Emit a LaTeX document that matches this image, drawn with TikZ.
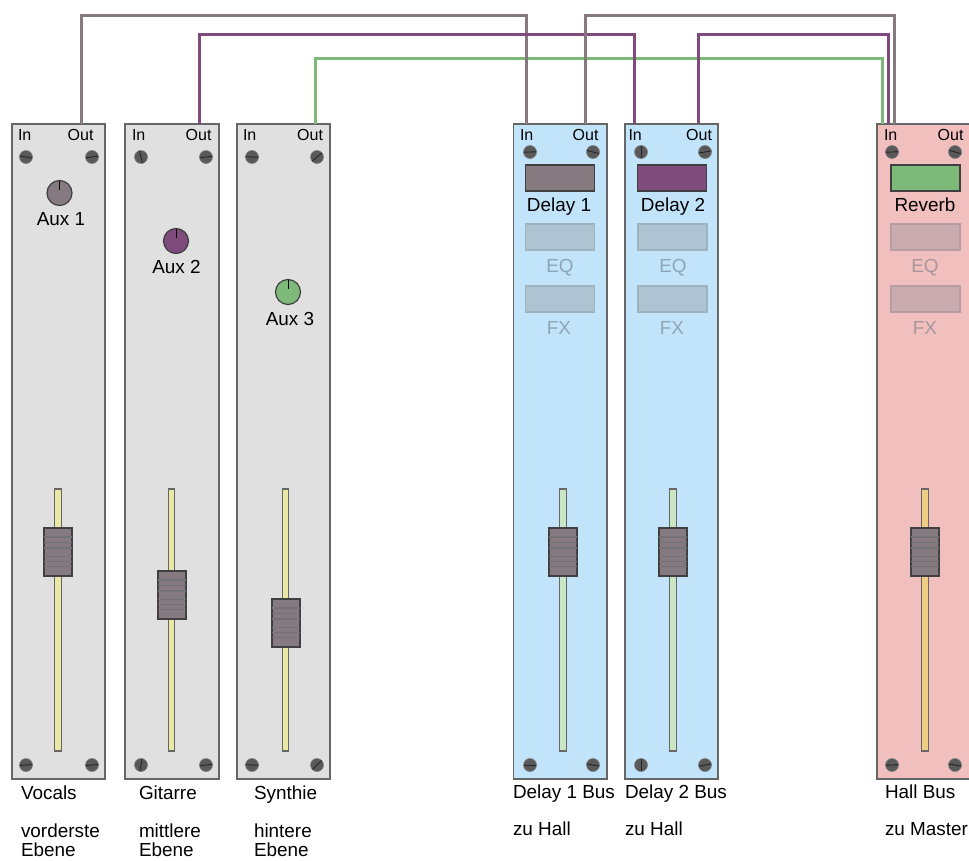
\documentclass[tikz,border=0pt]{standalone}
\usepackage{fontspec}
\setmainfont{Liberation Sans}
\definecolor{wgrey}{HTML}{857A80}
\definecolor{wpurple}{HTML}{7F4A7C}
\definecolor{wgreen}{HTML}{7DBA7A}
\definecolor{edge}{HTML}{666666}
\definecolor{pgrey}{HTML}{E0E0E0}
\definecolor{pblue}{HTML}{C2E4FB}
\definecolor{ppink}{HTML}{F2BFBF}
\definecolor{tyellow}{HTML}{E9E8A5}
\definecolor{tgreen}{HTML}{CBE6C4}
\definecolor{torange}{HTML}{F0CD85}
\definecolor{gfillb}{HTML}{AEC4D3}
\definecolor{gedgeb}{HTML}{9CB3C2}
\definecolor{gtextb}{HTML}{8EA5B5}
\definecolor{gfillp}{HTML}{C9ABB0}
\definecolor{gedgep}{HTML}{B59DA2}
\definecolor{gtextp}{HTML}{A6979B}
\tikzset{
  panelbox/.style={draw=edge,line width=1.5pt,inner sep=0,outer sep=0,anchor=north west},
  wire/.style={line width=3pt,line join=miter},
  lbl/.style={inner sep=0,outer sep=0,anchor=base west,font=\fontsize{18.9}{20}\selectfont,text=black},
  lblc/.style={lbl,anchor=base},
  port/.style={inner sep=0,outer sep=0,anchor=base west,font=\fontsize{16}{17}\selectfont,text=black},
  portr/.style={port,anchor=base east},
  slotbox/.style={line width=1.5pt,inner sep=0,outer sep=0,minimum width=69pt,minimum height=26pt,anchor=north west},
}
% x, y, page angle of the slot
\newcommand{\screwat}[3]{%
  \draw[fill=black!65,draw=black!50,line width=.6pt] (#1,#2) circle[radius=6.5];
  \draw[line width=.9pt,color=black!85] ([shift={({0-(#3)}:6.3)}]#1,#2) -- ([shift={({180-(#3)}:6.3)}]#1,#2);
}
% centre x, top y
\newcommand{\fadercap}[2]{%
  \draw[draw=black!75,fill=wgrey,line width=1.4pt] (#1-14,#2) rectangle (#1+14,#2+48);
  \foreach \d in {9,14.5,20,28.5,33.5,38.5}
    \draw[line width=1.3pt,color=black!55] (#1-14,#2+\d) -- (#1+14,#2+\d);
}
% centre x, colour
\newcommand{\track}[2]{%
  \draw[draw=black!60,fill=#2,line width=1.2pt] (#1-3.2,489) rectangle (#1+3.2,751);
}
% cx, cy, colour
\newcommand{\knobat}[3]{%
  \draw[draw=black!75,fill=#3,line width=1.2pt] (#1,#2) circle[radius=12.5];
  \draw[line width=1pt,color=black] (#1,#2-3) -- (#1,#2-12.5);
}
\begin{document}
\begin{tikzpicture}[x=1pt,y=-1pt]
\useasboundingbox (0,0) rectangle (969,860);
\clip (0,0) rectangle (969,860);
% panels
\node[panelbox,fill=pgrey,minimum width=93pt,minimum height=655pt] (vocals) at (12,124) {};
\node[panelbox,fill=pgrey,minimum width=94pt,minimum height=655pt] (gitarre) at (125,124) {};
\node[panelbox,fill=pgrey,minimum width=93pt,minimum height=655pt] (synthie) at (237,124) {};
\node[panelbox,fill=pblue,minimum width=93.5pt,minimum height=655pt] (delayA) at (513.5,124) {};
\node[panelbox,fill=pblue,minimum width=93pt,minimum height=655pt] (delayB) at (625,124) {};
\node[panelbox,fill=ppink,minimum width=100pt,minimum height=655pt] (hall) at (877,124) {};
% wire levels and ports
\coordinate (lvlA) at (0,15);
\coordinate (lvlB) at (0,34);
\coordinate (lvlC) at (0,58);
\coordinate (vocalsOut) at (81,124);
\coordinate (gitarreOut) at (199,124);
\coordinate (synthieOut) at (315,124);
\coordinate (delayAIn) at (526,124);
\coordinate (delayAOut) at (585,124);
\coordinate (delayBIn) at (634,124);
\coordinate (delayBOut) at (698.5,124);
\coordinate (hallInA) at (882.5,124);
\coordinate (hallInB) at (888.5,124);
\coordinate (hallInC) at (894,124);
% wires
\draw[wire,wgreen] (synthieOut) -- (synthieOut |- lvlC) -- (hallInA |- lvlC) -- (hallInA);
\draw[wire,wgrey] (vocalsOut) -- (vocalsOut |- lvlA) -- (delayAIn |- lvlA) -- (delayAIn);
\draw[wire,wpurple] (gitarreOut) -- (gitarreOut |- lvlB) -- (delayBIn |- lvlB) -- (delayBIn);
\draw[wire,wpurple] (delayBOut) -- (delayBOut |- lvlB) -- (hallInB |- lvlB) -- (hallInB);
\draw[wire,wgrey] (delayAOut) -- (delayAOut |- lvlA) -- (hallInC |- lvlA) -- (hallInC);
% port labels
\node[port] (i1) at (18,140) {In};   \node[portr] (o1) at (93.5,140) {Out};
\node[port] (i2) at (132,140) {In};  \node[portr] (o2) at (211.5,140) {Out};
\node[port] (i3) at (243,140) {In};  \node[portr] (o3) at (323,140) {Out};
\node[port] (i4) at (520,140) {In};  \node[portr] (o4) at (598.5,140) {Out};
\node[port] (i5) at (628.5,140) {In};\node[portr] (o5) at (712,140) {Out};
\node[port] (i6) at (884,140) {In};  \node[portr] (o6) at (963.5,140) {Out};
% screws
\screwat{26}{157}{-10}\screwat{92}{157}{8}
\screwat{141}{157}{-75}\screwat{206}{157}{8}
\screwat{252}{157}{-3}\screwat{317}{157}{40}
\screwat{530}{152}{2}\screwat{593}{152}{-15}
\screwat{641}{152}{90}\screwat{705}{152}{10}
\screwat{892}{152}{2}\screwat{955}{152}{-15}
\screwat{26}{765}{5}\screwat{92}{765}{5}
\screwat{141}{765}{80}\screwat{206}{765}{8}
\screwat{252}{765}{-3}\screwat{317}{765}{45}
\screwat{530}{765}{0}\screwat{593}{765}{-10}
\screwat{641}{765}{90}\screwat{705}{765}{10}
\screwat{892}{765}{2}\screwat{955}{765}{-10}
% knobs
\knobat{59.5}{193}{wgrey}
\knobat{176}{241}{wpurple}
\knobat{288}{292}{wgreen}
\node[lblc] (aux1) at (61,225) {Aux 1};
\node[lblc] (aux2) at (176.5,273) {Aux 2};
\node[lblc] (aux3) at (290,325) {Aux 3};
% effect slots
\node[slotbox,draw=black!75,fill=wgrey] (s1) at (525.5,165) {};
\node[slotbox,draw=black!75,fill=wpurple] (s2) at (637.5,165) {};
\node[slotbox,draw=black!75,fill=wgreen] (s3) at (891,165) {};
\node[lblc] (n1) at (559,211.5) {Delay 1};
\node[lblc] (n2) at (673,211.5) {Delay 2};
\node[lblc] (n3) at (925,211.5) {Reverb};
\node[slotbox,draw=gedgeb,fill=gfillb] (e1) at (525.5,224) {};
\node[slotbox,draw=gedgeb,fill=gfillb] (e2) at (638,224) {};
\node[slotbox,draw=gedgep,fill=gfillp] (e3) at (891,224) {};
\node[slotbox,draw=gedgeb,fill=gfillb] (f1) at (525.5,286) {};
\node[slotbox,draw=gedgeb,fill=gfillb] (f2) at (638,286) {};
\node[slotbox,draw=gedgep,fill=gfillp] (f3) at (891,286) {};
\node[lblc,text=gtextb] (eq1) at (560,272) {EQ};
\node[lblc,text=gtextb] (eq2) at (673,272) {EQ};
\node[lblc,text=gtextp] (eq3) at (925,272) {EQ};
\node[lblc,text=gtextb] (fx1) at (559,334) {FX};
\node[lblc,text=gtextb] (fx2) at (672,334) {FX};
\node[lblc,text=gtextp] (fx3) at (925,334) {FX};
% faders
\track{58}{tyellow}\fadercap{58}{528}
\track{171.5}{tyellow}\fadercap{172}{571}
\track{285.5}{tyellow}\fadercap{286}{599}
\track{563}{tgreen}\fadercap{563}{528}
\track{673}{tgreen}\fadercap{673}{528}
\track{925}{torange}\fadercap{925}{528}
% captions
\node[lbl] (c1a) at (21,799.5) {Vocals};
\node[lbl] (c1b) at (21,837.5) {vorderste};
\node[lbl] (c1c) at (21,856.5) {Ebene};
\node[lbl] (c2a) at (139,799.5) {Gitarre};
\node[lbl] (c2b) at (139,837.5) {mittlere};
\node[lbl] (c2c) at (139,856.5) {Ebene};
\node[lbl] (c3a) at (254,799.5) {Synthie};
\node[lbl] (c3b) at (254,837.5) {hintere};
\node[lbl] (c3c) at (254,856.5) {Ebene};
\node[lbl] (c4a) at (513,798) {Delay 1 Bus};
\node[lbl] (c4b) at (513,835) {zu Hall};
\node[lbl] (c5a) at (625,798) {Delay 2 Bus};
\node[lbl] (c5b) at (625,835) {zu Hall};
\node[lbl] (c6a) at (885,798) {Hall Bus};
\node[lbl] (c6b) at (885,835) {zu Master};
\end{tikzpicture}
\end{document}
